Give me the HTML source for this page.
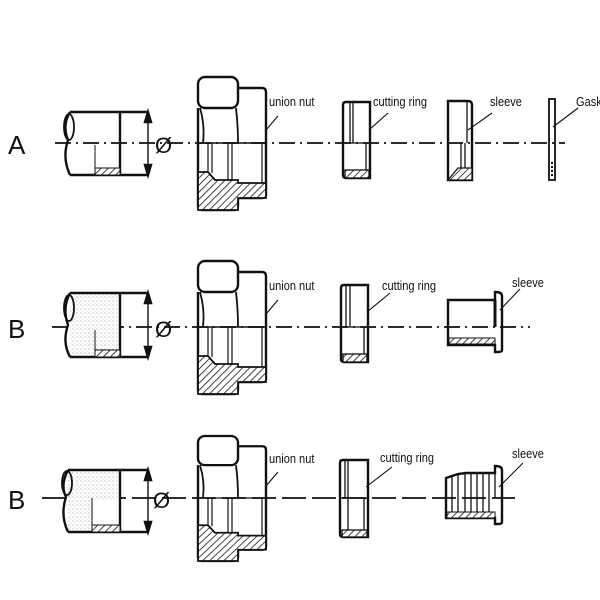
<!DOCTYPE html>
<html><head><style>
html,body{margin:0;padding:0;background:#fff;}
svg{display:block;}
text{font-family:"Liberation Sans",sans-serif;fill:#111;}
</style></head><body>
<svg width="600" height="600" viewBox="0 0 600 600" xmlns="http://www.w3.org/2000/svg">
<defs>
<pattern id="h" width="5" height="5" patternUnits="userSpaceOnUse" patternTransform="rotate(45)">
<rect width="5" height="5" fill="#fff"/><line x1="0" y1="0" x2="0" y2="5" stroke="#111" stroke-width="1.6"/>
</pattern>
<pattern id="dots" width="4" height="4" patternUnits="userSpaceOnUse">
<rect width="4" height="4" fill="#fff"/><circle cx="1" cy="1" r="0.6" fill="#999"/><circle cx="3" cy="3" r="0.5" fill="#bbb"/>
</pattern>
<g id="nut" fill="none" stroke="#111" stroke-width="2.4">
<rect x="198" y="-66" width="40" height="31" rx="7" fill="#fff"/>
<path d="M238 -55 H262 Q266 -55 266 -51 V52 Q266 55 262 55 H238 V63 Q238 67 234 67 H202 Q198 67 198 63 V-35"/>
<path d="M200 -35 Q205 -18 203 0 M236 -35 Q238 -18 238 0" stroke-width="1.8"/>
<path d="M198 0 H266" stroke-width="1.4"/>
<path d="M208 0 V30 M212 0 V30 M228 0 V37 M232 0 V37 M262 0 V40" stroke-width="1.2"/>
<path d="M198 29 H208 L215 37 H238 V40 H266 V55 H238 V67 H198 Z" fill="url(#h)" stroke-width="1.8"/>
</g>
</defs>

<!-- Row A -->
<text x="8" y="154" font-size="26" font-weight="300">A</text>
<line x1="55" y1="143" x2="565" y2="143" stroke="#111" stroke-width="1.8" stroke-dasharray="16,5,2,5"/>
<g fill="none" stroke="#111" stroke-width="2.4">
<path d="M70 112 H148 M70 175 H148 M120 112 V175"/>
<path d="M70 112 Q62 125 68 140 Q62 158 70 175" />
<ellipse cx="69" cy="127" rx="5" ry="13" stroke-width="1.8"/>
<path d="M95 145 V170" stroke-width="1"/>
<rect x="95" y="168" width="25" height="7" fill="url(#h)" stroke-width="1"/>
<path d="M148 117 V170" stroke-width="1.4"/>
<path d="M148 112 l-3 10 h6 z M148 175 l-3 -10 h6 z" fill="#111"/>
</g>
<text x="155" y="153" font-size="22">Ø</text>
<use href="#nut" transform="translate(0,143)"/>
<g fill="none" stroke="#111" stroke-width="2.4">
<path d="M346 102 H370 V178 H346 Q343 178 343 175 V105 Q343 102 346 102"/>
<path d="M350 102 V143 M353 102 V143 M343 143 H370 M366 143 V172" stroke-width="1.3"/>
<rect x="345" y="170" width="24" height="8" fill="url(#h)" stroke-width="1.3"/>
<path d="M448 101 H468 Q472 101 472 105 V180 H448 Z"/>
<path d="M467 101 V143 M461 143 V170 M465 143 V168" stroke-width="1.3"/>
<path d="M448 180 L458 168 H472 V180 Z" fill="url(#h)" stroke-width="1.3"/>
<rect x="549" y="99" width="6" height="81" stroke-width="1.8"/>
<path d="M552 162 V178" stroke="#111" stroke-width="2" stroke-dasharray="2,2"/>
<path d="M266 130 L278 116 M369 130 L388 113 M468 130 L492 113 M553 127 L578 108" stroke-width="1.1"/>
</g>
<text x="269" y="106" font-size="13" transform="scale(0.85,1)" transform-origin="269 106">union nut</text>
<text x="373" y="106" font-size="13" transform="scale(0.85,1)" transform-origin="373 106">cutting ring</text>
<text x="490" y="106" font-size="13" transform="scale(0.85,1)" transform-origin="490 106">sleeve</text>
<text x="576" y="106" font-size="13" transform="scale(0.85,1)" transform-origin="576 106">Gask</text>

<!-- Row B1 -->
<text x="8" y="338" font-size="26" font-weight="300">B</text>
<line x1="52" y1="327" x2="530" y2="327" stroke="#111" stroke-width="1.8" stroke-dasharray="16,5,2,5"/>
<g fill="none" stroke="#111" stroke-width="2.4">
<rect x="70" y="293" width="50" height="64" fill="url(#dots)" stroke="none"/>
<path d="M70 293 H148 M70 357 H148 M120 293 V357"/>
<path d="M70 293 Q62 308 68 325 Q62 342 70 357"/>
<ellipse cx="69" cy="308" rx="5" ry="13" stroke-width="1.8"/>
<path d="M95 330 V352" stroke-width="1"/>
<rect x="95" y="350" width="25" height="7" fill="url(#h)" stroke-width="1"/>
<path d="M148 298 V352" stroke-width="1.4"/>
<path d="M148 293 l-3 10 h6 z M148 357 l-3 -10 h6 z" fill="#111"/>
</g>
<text x="155" y="337" font-size="22">Ø</text>
<use href="#nut" transform="translate(0,327)"/>
<g fill="none" stroke="#111" stroke-width="2.4">
<path d="M344 285 H368 V362 H344 Q341 362 341 359 V288 Q341 285 344 285"/>
<path d="M346 285 V327 M350 285 V327 M341 327 H368 M364 327 V356" stroke-width="1.3"/>
<rect x="343" y="354" width="24" height="8" fill="url(#h)" stroke-width="1.3"/>
<path d="M448 300 H495 V292 Q502 292 502 296 V350 Q502 352 498 352 H495 V345 H448 Z"/>
<path d="M495 300 V327" stroke-width="3"/>
<rect x="449" y="338" width="46" height="6" fill="url(#h)" stroke-width="1"/>
<path d="M367 312 L390 293 M500 310 L520 289 M266 314 L278 300" stroke-width="1.1"/>
</g>
<text x="269" y="290" font-size="13" transform="scale(0.85,1)" transform-origin="269 290">union nut</text>
<text x="382" y="290" font-size="13" transform="scale(0.85,1)" transform-origin="382 290">cutting ring</text>
<text x="512" y="287" font-size="13" transform="scale(0.85,1)" transform-origin="512 287">sleeve</text>

<!-- Row B2 -->
<text x="8" y="509" font-size="26" font-weight="300">B</text>
<line x1="42" y1="498" x2="515" y2="498" stroke="#111" stroke-width="1.8" stroke-dasharray="24,6"/>
<g fill="none" stroke="#111" stroke-width="2.4">
<rect x="68" y="470" width="52" height="62" fill="url(#dots)" stroke="none"/>
<rect x="92" y="500" width="28" height="26" fill="#fff" stroke="none"/>
<path d="M68 470 H148 M68 532 H148 M120 470 V532"/>
<path d="M68 470 Q60 485 66 497 Q60 515 68 532"/>
<ellipse cx="67" cy="483" rx="5" ry="12" stroke-width="1.8"/>
<path d="M92 498 V526" stroke-width="1"/>
<rect x="92" y="525" width="28" height="7" fill="url(#h)" stroke-width="1"/>
<path d="M148 475 V527" stroke-width="1.4"/>
<path d="M148 470 l-3 10 h6 z M148 532 l-3 -10 h6 z" fill="#111"/>
</g>
<text x="153" y="508" font-size="22">Ø</text>
<use href="#nut" transform="translate(0,498) scale(1,0.94)"/>
<g fill="none" stroke="#111" stroke-width="2.4">
<path d="M343 460 H368 V537 H343 Q340 537 340 534 V463 Q340 460 343 460"/>
<path d="M345 460 V498 M348 460 V537 M340 498 H368 M364 498 V530" stroke-width="1.3"/>
<rect x="342" y="530" width="25" height="7" fill="url(#h)" stroke-width="1.3"/>
<path d="M446 478 L452 476 L458 474 L466 473 L474 473 L482 473 L495 473 V466 Q502 466 502 470 V522 Q502 524 498 524 H495 V518 H446 Z"/>
<path d="M452 476 V515 M458 474 V515 M465 473 V515 M471 473 V515 M477 473 V515 M483 473 V515 M489 473 V515 M495 473 V498" stroke-width="1.3"/>
<rect x="447" y="512" width="48" height="6" fill="url(#h)" stroke-width="1"/>
<path d="M366 487 L392 467 M499 487 L523 463 M266 486 L278 472" stroke-width="1.1"/>
</g>
<text x="269" y="463" font-size="13" transform="scale(0.85,1)" transform-origin="269 463">union nut</text>
<text x="380" y="462" font-size="13" transform="scale(0.85,1)" transform-origin="380 462">cutting ring</text>
<text x="512" y="458" font-size="13" transform="scale(0.85,1)" transform-origin="512 458">sleeve</text>
</svg>
</body></html>
